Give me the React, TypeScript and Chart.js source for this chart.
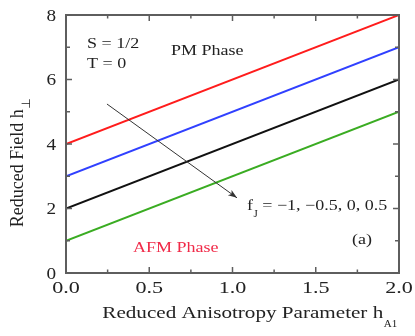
import React, { useEffect, useRef } from "react";
import { Chart, registerables } from "chart.js";

Chart.register(...registerables);

// ---- data ----
const hA1Values = [0, 2];
const fJLabels = ["-1", "-0.5", "0", "0.5"];
const redLine = [4, 8]; // fJ = -1
const blueLine = [3, 7]; // fJ = -0.5
const blackLine = [2, 6]; // fJ = 0
const greenLine = [1, 5]; // fJ = 0.5
const xTickLabels = ["0.0", "0.5", "1.0", "1.5", "2.0"];
const yTickLabels = ["0", "2", "4", "6", "8"];
const arrowFrom = [0.246, 5.24];
const arrowTo = [1.027, 2.33];

// ---- style ----
const SERIF = '"Liberation Serif", "Times New Roman", serif';
const AXIS = "#5e5e5e";
const TEXT = "#222";
const lineColors = ["#ff1c1c", "#3040ff", "#111111", "#3aac22"];

// annotation placement (data coords: x, baseline y)
const posS = [0.126, 6.98];
const posT = [0.126, 6.36];
const posPM = [0.631, 6.76];
const posAFM = [0.402, 0.65];
const posFJ = [1.087, 1.95];
const posA = [1.778, 0.9];

function txt(ctx: CanvasRenderingContext2D, s: string, x: number, y: number, size: number, sx: number, align: CanvasTextAlign = "left", color = TEXT) {
  ctx.save();
  ctx.font = `${size}px ${SERIF}`;
  ctx.fillStyle = color;
  ctx.textBaseline = "alphabetic";
  ctx.textAlign = align;
  ctx.translate(x, y);
  ctx.scale(sx, 1);
  ctx.fillText(s, 0, 0);
  const w = ctx.measureText(s).width * sx;
  ctx.restore();
  return w;
}

const decor = {
  id: "decor",
  afterDraw(chart: any) {
    const ctx: CanvasRenderingContext2D = chart.ctx;
    const { left, right, top, bottom } = chart.chartArea;
    const xs = chart.scales.x;
    const ys = chart.scales.y;

    ctx.save();
    // arrow
    const ax0 = xs.getPixelForValue(arrowFrom[0]);
    const ay0 = ys.getPixelForValue(arrowFrom[1]);
    const ax1 = xs.getPixelForValue(arrowTo[0]);
    const ay1 = ys.getPixelForValue(arrowTo[1]);
    ctx.strokeStyle = "#333";
    ctx.fillStyle = "#333";
    ctx.lineWidth = 1;
    ctx.beginPath();
    ctx.moveTo(ax0, ay0);
    ctx.lineTo(ax1, ay1);
    ctx.stroke();
    const ang = Math.atan2(ay1 - ay0, ax1 - ax0);
    const hl = 9, hw = 3.2;
    ctx.beginPath();
    ctx.moveTo(ax1, ay1);
    ctx.lineTo(ax1 - hl * Math.cos(ang) + hw * Math.sin(ang), ay1 - hl * Math.sin(ang) - hw * Math.cos(ang));
    ctx.lineTo(ax1 - hl * 0.75 * Math.cos(ang), ay1 - hl * 0.75 * Math.sin(ang));
    ctx.lineTo(ax1 - hl * Math.cos(ang) - hw * Math.sin(ang), ay1 - hl * Math.sin(ang) + hw * Math.cos(ang));
    ctx.closePath();
    ctx.fill();

    // frame
    ctx.strokeStyle = AXIS;
    ctx.lineWidth = 2;
    ctx.strokeRect(left, top, right - left, bottom - top);

    // inner ticks
    ctx.lineWidth = 1.5;
    const seg = (x0: number, y0: number, x1: number, y1: number) => {
      ctx.beginPath();
      ctx.moveTo(x0, y0);
      ctx.lineTo(x1, y1);
      ctx.stroke();
    };
    xs.ticks.forEach((t: any) => {
      const px = xs.getPixelForValue(t.value);
      const major = Math.abs(t.value * 2 - Math.round(t.value * 2)) < 1e-6;
      const len = major ? 6 : 3.5;
      seg(px, bottom, px, bottom - len);
      seg(px, top, px, top + len);
    });
    ys.ticks.forEach((t: any) => {
      const py = ys.getPixelForValue(t.value);
      const major = Math.abs(t.value / 2 - Math.round(t.value / 2)) < 1e-6;
      const len = major ? 6 : 4;
      seg(left, py, left + len, py);
      seg(right, py, right - len, py);
    });
    ctx.restore();

    // tick labels
    xTickLabels.forEach((l) => {
      const px = xs.getPixelForValue(parseFloat(l));
      txt(ctx, l, px, bottom + 20, 17, 1.3, "center");
    });
    yTickLabels.forEach((l) => {
      const py = ys.getPixelForValue(parseFloat(l));
      txt(ctx, l, left - 10, py + 5.5, 16, 1.2, "right");
    });

    // x title
    ctx.save();
    ctx.font = `16.5px ${SERIF}`;
    const mainX = "Reduced Anisotropy Parameter h";
    const wMain = ctx.measureText(mainX).width * 1.28;
    ctx.font = `11px ${SERIF}`;
    const wSub = ctx.measureText("A1").width;
    ctx.restore();
    const cx = (left + right) / 2 + 17;
    const sx0 = cx - (wMain + wSub) / 2;
    txt(ctx, mainX, sx0, bottom + 45, 16.5, 1.28);
    txt(ctx, "A1", sx0 + wMain + 0.5, bottom + 54, 11, 1.0);

    // y title (rotated)
    ctx.save();
    ctx.font = `18px ${SERIF}`;
    const mainY = "Reduced Field h";
    const wY = ctx.measureText(mainY).width;
    ctx.font = `12px "DejaVu Sans", sans-serif`;
    const wYs = ctx.measureText("\u22A5").width;
    const cy = (top + bottom) / 2 + 19;
    ctx.translate(left - 43, cy + (wY + wYs) / 2);
    ctx.rotate(-Math.PI / 2);
    ctx.fillStyle = TEXT;
    ctx.textBaseline = "alphabetic";
    ctx.textAlign = "left";
    ctx.font = `18px ${SERIF}`;
    ctx.fillText(mainY, 0, 0);
    ctx.font = `12px "DejaVu Sans", sans-serif`;
    ctx.fillText("\u22A5", wY + 0.5, 7);
    ctx.restore();

    // annotations
    const P = (p: number[]) => [xs.getPixelForValue(p[0]), ys.getPixelForValue(p[1])];
    let [x, y] = P(posS);
    txt(ctx, "S = 1/2", x, y, 15, 1.2);
    [x, y] = P(posT);
    txt(ctx, "T = 0", x, y, 15, 1.2);
    [x, y] = P(posPM);
    txt(ctx, "PM Phase", x, y, 15, 1.2);
    [x, y] = P(posAFM);
    txt(ctx, "AFM Phase", x, y, 15, 1.2, "left", "#f02a48");
    [x, y] = P(posFJ);
    let w = txt(ctx, "f", x, y, 15, 1.2);
    const wJ = txt(ctx, "J", x + w + 0.5, y + 7, 10, 1.1);
    const list = fJLabels.map((v) => v.replace("-", "\u2212")).join(", ");
    txt(ctx, " = " + list, x + w + wJ + 0.5, y, 15, 1.2);
    [x, y] = P(posA);
    txt(ctx, "(a)", x, y, 15, 1.2, "center");
  },
};

export default function App() {
  const ref = useRef<HTMLCanvasElement | null>(null);
  useEffect(() => {
    if (!ref.current) return;
    const series = [redLine, blueLine, blackLine, greenLine];
    const chart = new Chart(ref.current, {
      type: "line",
      data: {
        datasets: series.map((vals, i) => ({
          label: "fJ = " + fJLabels[i],
          data: hA1Values.map((xv, j) => ({ x: xv, y: vals[j] })),
          borderColor: lineColors[i],
          backgroundColor: lineColors[i],
          borderWidth: 2,
          pointRadius: 0,
          fill: false,
          tension: 0,
        })),
      },
      options: {
        animation: false,
        responsive: false,
        layout: { padding: { top: 15, right: 16, left: 0, bottom: 0 } },
        plugins: { legend: { display: false }, tooltip: { enabled: false } },
        scales: {
          x: {
            type: "linear",
            min: 0,
            max: 2,
            ticks: { display: false, stepSize: 0.25 },
            grid: { display: false },
            border: { display: false },
            afterFit: (s: any) => {
              s.height = 63;
            },
          },
          y: {
            type: "linear",
            min: 0,
            max: 8,
            ticks: { display: false, stepSize: 1 },
            grid: { display: false },
            border: { display: false },
            afterFit: (s: any) => {
              s.width = 66;
            },
          },
        },
      },
      plugins: [decor],
    } as any);
    return () => chart.destroy();
  }, []);
  return (
    <div style={{ position: "fixed", left: 0, top: 0, width: 415, height: 336, background: "#fff" }}>
      <canvas ref={ref} width={415} height={336} style={{ display: "block" }} />
    </div>
  );
}
